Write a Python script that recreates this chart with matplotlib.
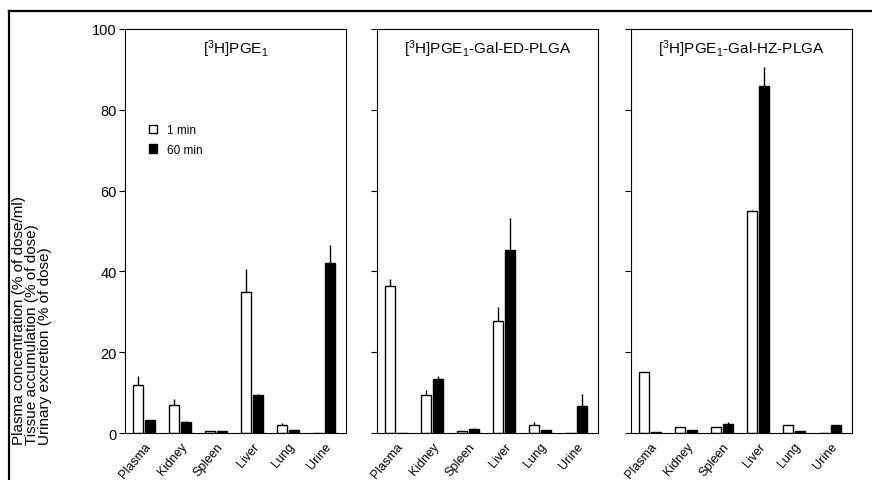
import numpy as np
import matplotlib
matplotlib.use('Agg')
import matplotlib.pyplot as plt
from matplotlib.lines import Line2D
from matplotlib.patches import Patch

plt.rcParams['font.family'] = ['Liberation Sans', 'DejaVu Sans']
plt.rcParams['mathtext.fontset'] = 'custom'
plt.rcParams['mathtext.rm'] = 'Liberation Sans'
plt.rcParams['mathtext.it'] = 'Liberation Sans'

# Data
organs = ['Plasma', 'Kidney', 'Spleen', 'Liver', 'Lung', 'Urine']
titles = [r'[$^3$H]PGE$_1$', r'[$^3$H]PGE$_1$-Gal-ED-PLGA', r'[$^3$H]PGE$_1$-Gal-HZ-PLGA']

pge_1min = [11.8, 7.0, 0.5, 35.0, 2.0, 0.0]
pge_1min_err = [2.2, 1.5, 0.0, 5.5, 0.4, 0.0]
pge_60min = [3.3, 2.7, 0.5, 9.4, 0.8, 42.2]
pge_60min_err = [0.0, 0.2, 0.0, 0.3, 0.0, 4.3]

ed_1min = [36.5, 9.5, 0.4, 27.7, 2.0, 0.0]
ed_1min_err = [1.5, 1.2, 0.0, 3.4, 0.6, 0.0]
ed_60min = [0.0, 13.3, 1.0, 45.3, 0.8, 6.8]
ed_60min_err = [0.0, 0.8, 0.2, 7.8, 0.0, 2.8]

hz_1min = [15.1, 1.5, 1.5, 55.0, 2.0, 0.0]
hz_1min_err = [0.0, 0.0, 0.0, 0.3, 0.0, 0.0]
hz_60min = [0.3, 0.8, 2.2, 86.0, 0.5, 2.0]
hz_60min_err = [0.0, 0.0, 0.4, 4.5, 0.0, 0.0]

panels = [
    (pge_1min, pge_1min_err, pge_60min, pge_60min_err),
    (ed_1min, ed_1min_err, ed_60min, ed_60min_err),
    (hz_1min, hz_1min_err, hz_60min, hz_60min_err),
]

W, H = 872, 481
fig = plt.figure(figsize=(W / 100, H / 100), dpi=100)

lefts = [125, 377, 631]
ax_w = 221
ax_top, ax_bot = 30, 434

x = np.arange(len(organs))
bw = 0.27
off = 0.165

for i, (v1, e1, v60, e60) in enumerate(panels):
    ax = fig.add_axes([lefts[i] / W, 1 - ax_bot / H, ax_w / W, (ax_bot - ax_top) / H])
    ax.bar(x - off, v1, bw, color='white', edgecolor='black', linewidth=1.0, zorder=2)
    ax.bar(x + off, v60, bw, color='black', edgecolor='black', linewidth=1.0, zorder=2)
    ax.errorbar(x - off, v1, yerr=[np.zeros(len(v1)), e1], fmt='none', ecolor='black',
                elinewidth=1.0, capsize=0, zorder=1)
    ax.errorbar(x + off, v60, yerr=[np.zeros(len(v60)), e60], fmt='none', ecolor='black',
                elinewidth=1.0, capsize=0, zorder=1)
    ax.set_ylim(0, 100)
    ax.set_xlim(-0.53, 5.61)
    ax.set_yticks([0, 20, 40, 60, 80, 100])
    ax.set_xticks(x)
    ax.set_xticklabels(organs, rotation=50, ha='right', va='top', rotation_mode='anchor',
                       fontsize=9)
    ax.tick_params(axis='x', length=0, pad=5)
    ax.tick_params(axis='y', direction='out', length=4, width=0.8, labelsize=10.5, pad=2)
    if i > 0:
        ax.set_yticklabels([])
    for s in ax.spines.values():
        s.set_linewidth(0.8)
    ax.text(0.5, 0.978, titles[i], transform=ax.transAxes, ha='center', va='top', fontsize=11)
    if i == 0:
        handles = [Patch(facecolor='white', edgecolor='black', linewidth=1.0),
                   Patch(facecolor='black', edgecolor='black', linewidth=1.0)]
        ax.legend(handles, ['1 min', '60 min'], loc='upper left', bbox_to_anchor=(0.06, 0.79),
                  frameon=False, fontsize=8.5, handlelength=0.7, handleheight=0.7,
                  handletextpad=0.8, labelspacing=0.6)

fig.text(32 / W, 1 - 445 / H,
         'Plasma concentration (% of dose/ml)\nTissue accumulation (% of dose)\nUrinary excretion (% of dose)',
         rotation=90, ha='center', va='bottom', multialignment='left', fontsize=11, linespacing=0.95)

# outer frame
fig.add_artist(Line2D([9 / W, 9 / W], [0, 1 - 12 / H], color='black', lw=1.6))
fig.add_artist(Line2D([9 / W, 1], [1 - 12 / H, 1 - 12 / H], color='black', lw=1.6))

fig.savefig('out.png', dpi=100)
